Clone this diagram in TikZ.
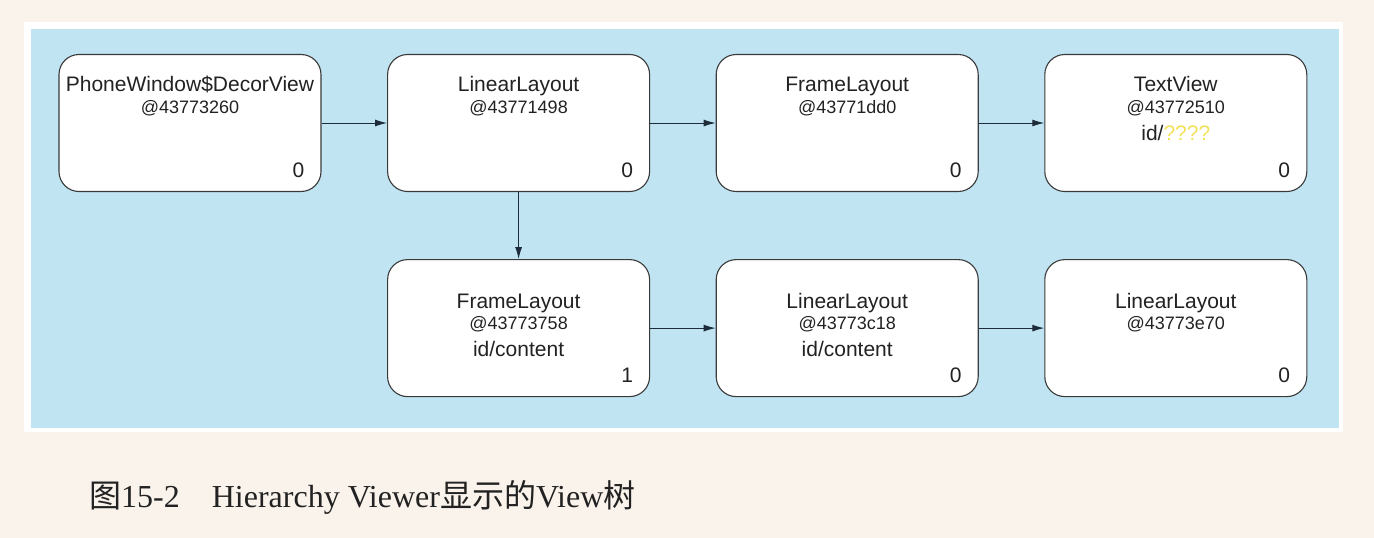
\documentclass[tikz,border=0pt]{standalone}
\usepackage{fontspec}
\setmainfont{Liberation Serif}
\newfontfamily\boxfont{Liberation Sans}
\newfontfamily\cjk{Noto Sans CJK SC}
\usetikzlibrary{positioning,arrows.meta}

\definecolor{paper}{HTML}{FAF3EC}
\definecolor{panel}{HTML}{C0E4F2}
\definecolor{boxline}{HTML}{3A3A3A}
\definecolor{arrowline}{HTML}{1D2B3A}
\definecolor{txt}{HTML}{222222}
\definecolor{unknownid}{HTML}{F2E25A}

\tikzset{
    viewbox/.style={draw=boxline, fill=white, line width=1.1pt, rounded corners=20pt,
        minimum width=262pt, minimum height=137pt, inner sep=0pt},
    classname/.style={anchor=base, inner sep=0pt, text=txt, font=\boxfont\fontsize{21}{21}\selectfont},
    address/.style={anchor=base, inner sep=0pt, text=txt, font=\boxfont\fontsize{18}{18}\selectfont},
    viewcount/.style={anchor=base east, inner sep=0pt, text=txt, font=\boxfont\fontsize{21}{21}\selectfont},
    child/.style={-{Latex[length=12pt,width=7pt]}, draw=arrowline, line width=1pt},
}

\begin{document}
\begin{tikzpicture}[x=1pt,y=-1pt]
        % page, frame and panel
        \fill[paper] (0,0) rectangle (1374,538);
        \useasboundingbox (0,0) rectangle (1374,538);
        \fill[white] (24,22) rectangle (1343,432);
        \fill[panel] (31,29) rectangle (1339,428);

        % top row
        \node[viewbox] (decor) at (190,123) {};
        \node[viewbox, right=65.5pt of decor] (linear1) {};
        \node[viewbox, right=65.5pt of linear1] (frame1) {};
        \node[viewbox, right=65.5pt of frame1] (text1) {};

        % bottom row
        \node[viewbox, below=67pt of linear1] (frame2) {};
        \node[viewbox, right=65.5pt of frame2] (linear2) {};
        \node[viewbox, right=65.5pt of linear2] (linear3) {};

        % top row texts
        \node[classname] (decorName) at ([yshift=-38pt]decor.north) {PhoneWindow\$DecorView};
        \node[address] (decorAddr) at ([yshift=-60pt]decor.north) {@43773260};
        \node[viewcount] (decorCount) at ([xshift=-17pt,yshift=15pt]decor.south east) {0};

        \node[classname] (linear1Name) at ([yshift=-38pt]linear1.north) {LinearLayout};
        \node[address] (linear1Addr) at ([yshift=-60pt]linear1.north) {@43771498};
        \node[viewcount] (linear1Count) at ([xshift=-17pt,yshift=15pt]linear1.south east) {0};

        \node[classname] (frame1Name) at ([yshift=-38pt]frame1.north) {FrameLayout};
        \node[address] (frame1Addr) at ([yshift=-60pt]frame1.north) {@43771dd0};
        \node[viewcount] (frame1Count) at ([xshift=-17pt,yshift=15pt]frame1.south east) {0};

        \node[classname] (text1Name) at ([yshift=-38pt]text1.north) {TextView};
        \node[address] (text1Addr) at ([yshift=-60pt]text1.north) {@43772510};
        \node[classname] (text1Id) at ([yshift=-87pt]text1.north) {id/\textcolor{unknownid}{????}};
        \node[viewcount] (text1Count) at ([xshift=-17pt,yshift=15pt]text1.south east) {0};

        % bottom row texts
        \node[classname] (frame2Name) at ([yshift=-49pt]frame2.north) {FrameLayout};
        \node[address] (frame2Addr) at ([yshift=-70pt]frame2.north) {@43773758};
        \node[classname] (frame2Id) at ([yshift=-97pt]frame2.north) {id/content};
        \node[viewcount] (frame2Count) at ([xshift=-17pt,yshift=15pt]frame2.south east) {1};

        \node[classname] (linear2Name) at ([yshift=-49pt]linear2.north) {LinearLayout};
        \node[address] (linear2Addr) at ([yshift=-70pt]linear2.north) {@43773c18};
        \node[classname] (linear2Id) at ([yshift=-97pt]linear2.north) {id/content};
        \node[viewcount] (linear2Count) at ([xshift=-17pt,yshift=15pt]linear2.south east) {0};

        \node[classname] (linear3Name) at ([yshift=-49pt]linear3.north) {LinearLayout};
        \node[address] (linear3Addr) at ([yshift=-70pt]linear3.north) {@43773e70};
        \node[viewcount] (linear3Count) at ([xshift=-17pt,yshift=15pt]linear3.south east) {0};

        % arrows
        \draw[child] (decor) -- (linear1);
        \draw[child] (linear1) -- (frame1);
        \draw[child] (frame1) -- (text1);
        \draw[child] (linear1) -- (frame2);
        \draw[child] (frame2) -- (linear2);
        \draw[child] (linear2) -- (linear3);

        % caption
        \node[anchor=base west, inner sep=0pt, text=txt, font=\fontsize{32}{32}\selectfont] (caption) at (89,507)
            {{\cjk 图}15-2\hspace{32pt}Hierarchy Viewer{\cjk 显示的}View{\cjk 树}};
    \end{tikzpicture}
\end{document}
